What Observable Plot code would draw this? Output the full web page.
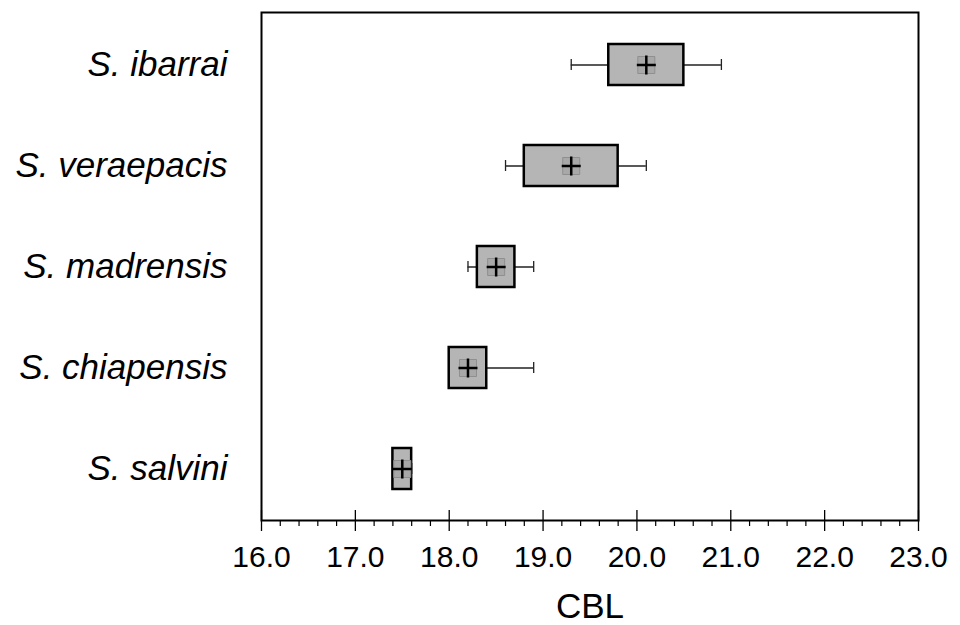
<!DOCTYPE html>
<html>
<head>
<meta charset="utf-8">
<script src="https://cdn.jsdelivr.net/npm/d3@7"></script>
<script src="https://cdn.jsdelivr.net/npm/@observablehq/plot@0.6"></script>
<style>
  html, body { margin: 0; padding: 0; background: #fff; }
  #chart svg { display: block; }
</style>
</head>
<body>
<div id="chart"></div>
<script>
const species = ["S. ibarrai", "S. veraepacis", "S. madrensis", "S. chiapensis", "S. salvini"];
const whiskerLow = [19.3, 18.6, 18.2, 18.0, 17.4];
const boxLow = [19.7, 18.8, 18.3, 18.0, 17.4];
const boxHigh = [20.5, 19.8, 18.7, 18.4, 17.6];
const whiskerHigh = [20.9, 20.1, 18.9, 18.9, 17.6];
const means = [20.1, 19.3, 18.5, 18.2, 17.5];
const majorTicks = [16, 17, 18, 19, 20, 21, 22, 23];
const minorTicks = [16.2,16.4,16.6,16.8,17.2,17.4,17.6,17.8,18.2,18.4,18.6,18.8,19.2,19.4,19.6,19.8,20.2,20.4,20.6,20.8,21.2,21.4,21.6,21.8,22.2,22.4,22.6,22.8];
const xLabel = "CBL";

const rows = species.map((s, i) => ({
  species: s, wlo: whiskerLow[i], blo: boxLow[i], bhi: boxHigh[i], whi: whiskerHigh[i], mean: means[i]
}));
const caps = rows.flatMap(d => [{species: d.species, x: d.wlo}, {species: d.species, x: d.whi}]);

const plusSymbol = {
  draw(context, size) {
    const r = Math.sqrt(size / Math.PI);
    context.moveTo(-r, 0); context.lineTo(r, 0);
    context.moveTo(0, -r); context.lineTo(0, r);
  }
};
const gridSquare = {
  draw(context, size) {
    const r = Math.sqrt(size / Math.PI);
    context.moveTo(-r, -r); context.lineTo(r, -r); context.lineTo(r, r); context.lineTo(-r, r); context.closePath();
    context.moveTo(-r, 0); context.lineTo(r, 0);
    context.moveTo(0, -r); context.lineTo(0, r);
  }
};

const chart = Plot.plot({
  width: 960,
  height: 625,
  marginLeft: 261,
  marginRight: 42,
  marginTop: 12,
  marginBottom: 105,
  style: { fontFamily: "'Liberation Sans', Arial, sans-serif", background: "#fff", color: "#000" },
  x: { domain: [16, 23] },
  y: { type: "band", domain: species, padding: 0 },
  marks: [
    Plot.ruleY(rows, { y: "species", x1: "wlo", x2: "whi", stroke: "#222", strokeWidth: 1.3 }),
    Plot.tickX(caps, { x: "x", y: "species", stroke: "#222", strokeWidth: 1.3, insetTop: 45, insetBottom: 45 }),
    Plot.barX(rows, { y: "species", x1: "blo", x2: "bhi", fill: "#b5b5b5", stroke: "#000", strokeWidth: 2.5, insetTop: 30, insetBottom: 30 }),
    Plot.dot(rows, { x: "mean", y: "species", symbol: gridSquare, r: 8.5, fill: "#a8a8a8", stroke: "#8f8f8f", strokeWidth: 1 }),
    Plot.dot(rows, { x: "mean", y: "species", symbol: plusSymbol, r: 9.5, fill: "none", stroke: "#000", strokeWidth: 2.5 }),
    Plot.frame({ stroke: "#000", strokeWidth: 2 }),
    Plot.tickX(majorTicks, { x: d => d, stroke: "#000", strokeWidth: 1.3, insetTop: 498 }),
    Plot.axisX(minorTicks, { tickSize: 6, tickFormat: () => "", label: null, strokeWidth: 1.2 }),
    Plot.axisX(majorTicks, { tickSize: 11, tickPadding: 14, tickFormat: d => d.toFixed(1), label: null, fontSize: 30, strokeWidth: 1.3 }),
    Plot.axisY({ tickSize: 0, tickPadding: 34, label: null, fontSize: 35, fontStyle: "italic" }),
    Plot.text([xLabel], { frameAnchor: "bottom", text: d => d, dy: 86, fontSize: 35, lineAnchor: "middle" })
  ]
});
document.getElementById("chart").appendChild(chart);
</script>
</body>
</html>
